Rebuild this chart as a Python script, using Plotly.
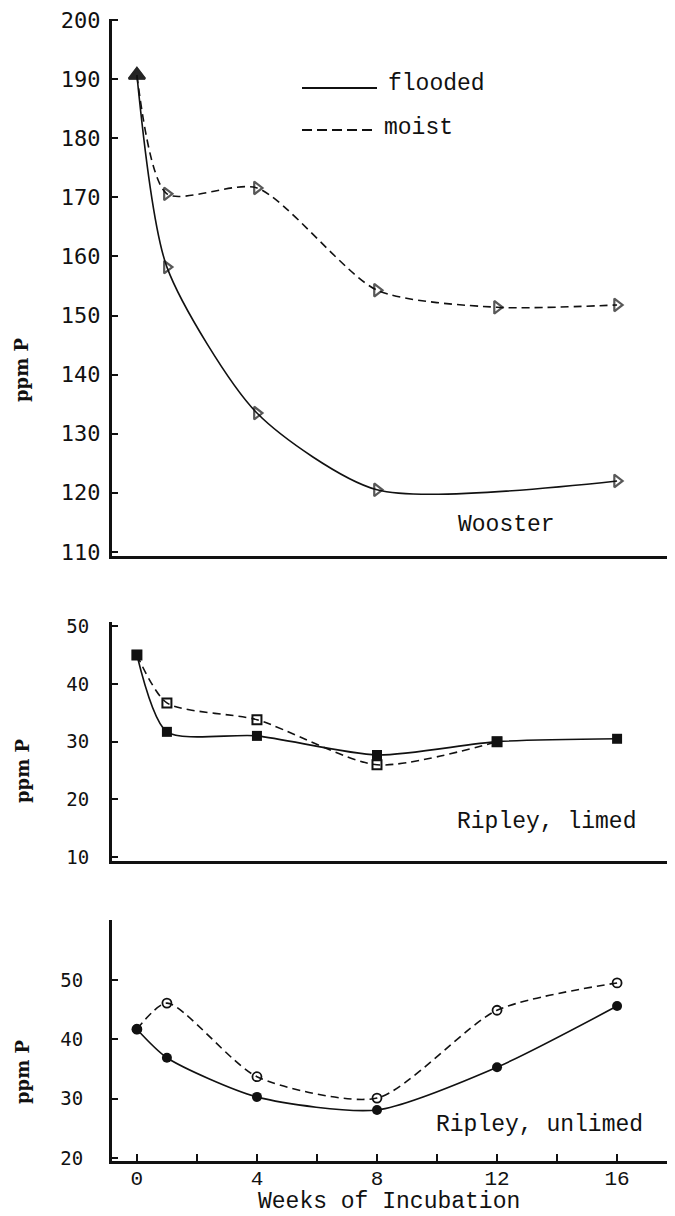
import plotly.graph_objects as go

OFF = 8  # page body margin of the browser
W, H = 675 - OFF, 1216 - OFF

# ---------------- data ----------------
wooster_flooded_weeks = [0, 1, 4, 8, 16]
wooster_flooded = [190.7, 158.2, 133.5, 120.5, 122.0]
wooster_moist_weeks = [0, 1, 4, 8, 12, 16]
wooster_moist = [190.7, 170.6, 171.6, 154.3, 151.4, 151.8]

limed_flooded_weeks = [0, 1, 4, 8, 12, 16]
limed_flooded = [45.0, 31.7, 31.0, 27.7, 30.0, 30.5]
limed_moist_weeks = [0, 1, 4, 8, 12]
limed_moist = [45.0, 36.7, 33.8, 26.0, 30.0]

unlimed_flooded_weeks = [0, 1, 4, 8, 12, 16]
unlimed_flooded = [41.7, 36.9, 30.3, 28.1, 35.3, 45.6]
unlimed_moist_weeks = [0, 1, 4, 8, 12, 16]
unlimed_moist = [41.7, 46.1, 33.7, 30.1, 44.9, 49.5]

top_ticks = [110, 120, 130, 140, 150, 160, 170, 180, 190, 200]
mid_ticks = [10, 20, 30, 40, 50]
bot_ticks = [20, 30, 40, 50]
x_tickvals = [0, 2, 4, 6, 8, 10, 12, 14, 16]
x_ticktext = ["0", "", "4", "", "8", "", "12", "", "16"]

panel_labels = ["Wooster", "Ripley, limed", "Ripley, unlimed"]
series_names = ["flooded", "moist"]
y_title = "ppm P"
x_title = "Weeks of Incubation"

# ---------------- helpers ----------------
def px_x(p):
    return (p - OFF) / W

def px_y(p):
    return 1 - (p - OFF) / H

BLACK = "#111111"
fig = go.Figure()

SM = 0.7
line_solid = dict(color=BLACK, width=1.6, shape="spline", smoothing=SM)
line_dash = dict(color=BLACK, width=1.6, shape="spline", smoothing=SM, dash="8px,5px")

# Top panel (Wooster)
fig.add_trace(go.Scatter(
    x=wooster_flooded_weeks, y=wooster_flooded, mode="lines+markers", name=series_names[0],
    line=line_solid,
    marker=dict(symbol=["triangle-up"] + ["triangle-right-open"] * (len(wooster_flooded) - 1),
                size=[14] + [11] * (len(wooster_flooded) - 1), color=BLACK,
                line=dict(color=BLACK, width=2.2)),
    xaxis="x", yaxis="y", showlegend=False))
fig.add_trace(go.Scatter(
    x=wooster_moist_weeks, y=wooster_moist, mode="lines+markers", name=series_names[1],
    line=line_dash,
    marker=dict(symbol=["triangle-up"] + ["triangle-right-open"] * (len(wooster_moist) - 1),
                size=[14] + [11] * (len(wooster_moist) - 1), color=BLACK,
                line=dict(color=BLACK, width=2.2)),
    xaxis="x", yaxis="y", showlegend=False))

# Middle panel (Ripley, limed)
fig.add_trace(go.Scatter(
    x=limed_moist_weeks, y=limed_moist, mode="lines+markers", name=series_names[1],
    line=line_dash,
    marker=dict(symbol="square-open", size=9, color=BLACK, line=dict(color=BLACK, width=2)),
    xaxis="x2", yaxis="y2", showlegend=False))
fig.add_trace(go.Scatter(
    x=limed_flooded_weeks, y=limed_flooded, mode="lines+markers", name=series_names[0],
    line=line_solid,
    marker=dict(symbol="square", size=10, color=BLACK),
    xaxis="x2", yaxis="y2", showlegend=False))

# Bottom panel (Ripley, unlimed)
fig.add_trace(go.Scatter(
    x=unlimed_moist_weeks, y=unlimed_moist, mode="lines+markers", name=series_names[1],
    line=line_dash,
    marker=dict(symbol="circle-open", size=9, color=BLACK, line=dict(color=BLACK, width=1.8)),
    xaxis="x3", yaxis="y3", showlegend=False))
fig.add_trace(go.Scatter(
    x=unlimed_flooded_weeks, y=unlimed_flooded, mode="lines+markers", name=series_names[0],
    line=line_solid,
    marker=dict(symbol="circle", size=10, color=BLACK),
    xaxis="x3", yaxis="y3", showlegend=False))

x_dom = [px_x(112), 1.0]
x_range = [-0.83, 17.93]

def xaxis_common(show_ticks):
    d = dict(domain=x_dom, range=x_range, showline=True, linecolor=BLACK, linewidth=3,
             showgrid=False, zeroline=False, fixedrange=True, automargin=False)
    if show_ticks:
        d.update(tickmode="array", tickvals=x_tickvals, ticktext=x_ticktext,
                 ticks="inside", ticklen=7, tickwidth=2, tickcolor=BLACK,
                 ticklabelstandoff=-4, ticklabeloverflow="allow",
                 tickfont=dict(family="Liberation Mono", size=21, color=BLACK))
    else:
        d.update(showticklabels=False, ticks="")
    return d

def yaxis_common(dom_px, rng, ticks, fsize, standoff):
    return dict(domain=[px_y(dom_px[1]), px_y(dom_px[0])], range=rng,
                tickmode="array", tickvals=ticks,
                showline=True, linecolor=BLACK, linewidth=3,
                ticks="inside", ticklen=6, tickwidth=2, tickcolor=BLACK,
                tickfont=dict(family="DejaVu Sans Mono", size=fsize, color=BLACK),
                ticklabelstandoff=standoff, ticklabeloverflow="allow", automargin=False,
                showgrid=False, zeroline=False, fixedrange=True)

fig.update_layout(
    width=W, height=H,
    margin=dict(l=0, r=0, t=0, b=0, autoexpand=False),
    paper_bgcolor="white", plot_bgcolor="white",
    xaxis=dict(**xaxis_common(False), anchor="y"),
    xaxis2=dict(**xaxis_common(False), anchor="y2"),
    xaxis3=dict(**xaxis_common(True), anchor="y3"),
    yaxis=dict(**yaxis_common([19, 556], [109.3, 200.2], top_ticks, 22, 4), anchor="x"),
    yaxis2=dict(**yaxis_common([622, 861], [9.36, 50.7], mid_ticks, 19, 16), anchor="x2"),
    yaxis3=dict(**yaxis_common([920, 1161], [19.5, 60.1], bot_ticks, 19, 22), anchor="x3"),
)

# Legend drawn by hand
fig.add_shape(type="line", xref="paper", yref="paper",
              x0=px_x(302), x1=px_x(377), y0=px_y(88), y1=px_y(88),
              line=dict(color=BLACK, width=2))
fig.add_shape(type="line", xref="paper", yref="paper",
              x0=px_x(302), x1=px_x(373), y0=px_y(130), y1=px_y(130),
              line=dict(color=BLACK, width=2, dash="10px,5px"))

txt_font = dict(family="Liberation Mono", size=23, color=BLACK)
annos = [
    dict(text=series_names[0], x=px_x(386), y=px_y(84), xanchor="left", yanchor="middle"),
    dict(text=series_names[1], x=px_x(382), y=px_y(128), xanchor="left", yanchor="middle"),
    dict(text=panel_labels[0], x=px_x(506), y=px_y(525), xanchor="center", yanchor="middle"),
    dict(text=panel_labels[1], x=px_x(546), y=px_y(822), xanchor="center", yanchor="middle"),
    dict(text=panel_labels[2], x=px_x(539), y=px_y(1125), xanchor="center", yanchor="middle"),
    dict(text=x_title, x=px_x(389), y=px_y(1202), xanchor="center", yanchor="middle"),
]
for a in annos:
    fig.add_annotation(xref="paper", yref="paper", showarrow=False, font=txt_font, **a)

yt_font = dict(family="DejaVu Serif", size=18, color=BLACK, weight="bold")
for yc in [370, 771, 1072]:
    fig.add_annotation(xref="paper", yref="paper", showarrow=False, text=y_title,
                       x=px_x(22), y=px_y(yc), xanchor="center", yanchor="middle",
                       textangle=-90, font=yt_font)

fig.write_html("out.html")
